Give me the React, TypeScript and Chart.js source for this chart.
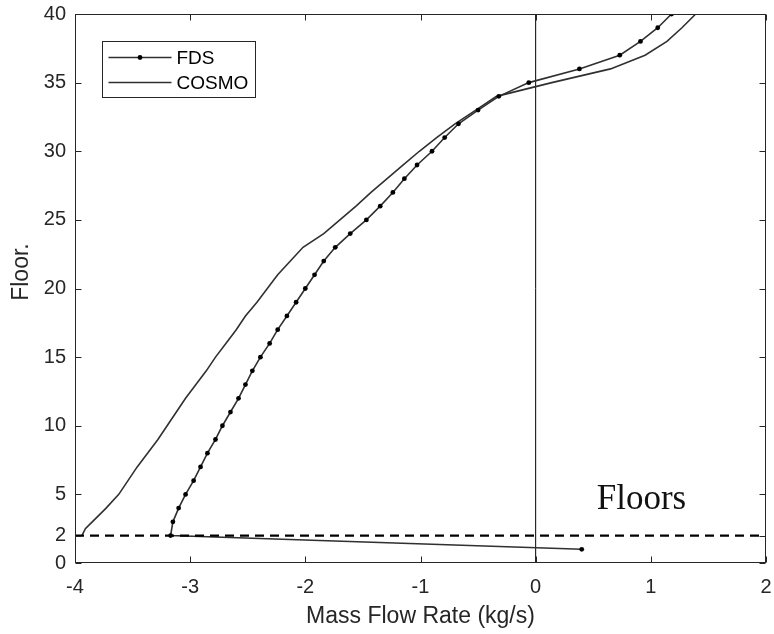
import React, { useEffect, useRef } from "react";
import { Chart, registerables } from "chart.js";

Chart.register(...registerables);

// Mass flow rate per floor (kg/s)
const fdsFloors = [
  1, 2, 3, 4, 5, 6, 7, 8, 9, 10, 11, 12, 13, 14, 15, 16, 17, 18, 19, 20,
  21, 22, 23, 24, 25, 26, 27, 28, 29, 30, 31, 32, 33, 34, 35, 36, 37, 38, 39, 40,
];
const fdsFlow = [
  0.4, -3.17, -3.15, -3.1, -3.04, -2.97, -2.91, -2.85, -2.78, -2.72,
  -2.65, -2.58, -2.52, -2.46, -2.39, -2.31, -2.24, -2.16, -2.08, -2.0,
  -1.92, -1.84, -1.74, -1.61, -1.47, -1.35, -1.24, -1.14, -1.03, -0.9,
  -0.79, -0.67, -0.5, -0.32, -0.06, 0.38, 0.73, 0.91, 1.06, 1.18,
];

const cosmoFloors = [
  2, 2.5, 3, 4, 5, 6, 7, 8, 9, 10, 11, 12, 13, 14, 15, 16, 17, 18, 19, 20,
  21, 22, 23, 24, 25, 26, 27, 28, 29, 30, 31, 32, 33, 34, 35, 36, 37, 38, 39, 40,
];
const cosmoFlow = [
  -3.94, -3.91, -3.85, -3.73, -3.62, -3.54, -3.46, -3.37, -3.28, -3.2,
  -3.12, -3.04, -2.95, -2.86, -2.78, -2.69, -2.6, -2.52, -2.42, -2.33,
  -2.24, -2.13, -2.02, -1.84, -1.7, -1.56, -1.43, -1.29, -1.15, -1.01,
  -0.86, -0.7, -0.52, -0.34, 0.14, 0.65, 0.95, 1.14, 1.27, 1.39,
];

const seriesLabels = ["FDS", "COSMO"];
const xTickValues = [-4, -3, -2, -1, 0, 1, 2];
const yTickValues = [0, 2, 5, 10, 15, 20, 25, 30, 35, 40];
const markerFloor = 2;
const annotationText = "Floors";
const xAxisTitle = "Mass Flow Rate (kg/s)";
const yAxisTitle = "Floor.";

const AXIS_COLOR = "#262626";
const SANS = "Arial, 'Liberation Sans', sans-serif";

const toPoints = (xs: number[], ys: number[]) => xs.map((x, i) => ({ x, y: ys[i] }));

// Drop the label overhang so the plot box sits exactly inside the layout padding
const noOverhang = (scale: any) => {
  scale.paddingLeft = 0;
  scale.paddingRight = 0;
  scale.paddingTop = 0;
  scale.paddingBottom = 0;
};

// Box around the axes with inward tick marks, the y title, the inset legend and the text note
const framePlugin = {
  id: "frameLegend",
  afterDraw(chart: any) {
    const { ctx, chartArea: a, scales } = chart;
    const xs = scales.x;
    const ys = scales.y;
    ctx.save();
    ctx.strokeStyle = AXIS_COLOR;
    ctx.lineWidth = 1;
    const L = Math.round(a.left) + 0.5;
    const R = Math.round(a.right) - 0.5;
    const T = Math.round(a.top) + 0.5;
    const B = Math.round(a.bottom) - 0.5;
    ctx.strokeRect(L, T, R - L, B - T);
    const tl = 6;
    ctx.beginPath();
    xs.ticks.forEach((t: any) => {
      const px = Math.round(xs.getPixelForValue(t.value)) + 0.5;
      ctx.moveTo(px, B);
      ctx.lineTo(px, B - tl);
      ctx.moveTo(px, T);
      ctx.lineTo(px, T + tl);
    });
    ys.ticks.forEach((t: any) => {
      const py = Math.round(ys.getPixelForValue(t.value)) + 0.5;
      ctx.moveTo(L, py);
      ctx.lineTo(L + tl, py);
      ctx.moveTo(R, py);
      ctx.lineTo(R - tl, py);
    });
    ctx.stroke();

    // y axis title
    ctx.save();
    ctx.translate(22, ys.getPixelForValue(21.2));
    ctx.rotate(-Math.PI / 2);
    ctx.font = `23px ${SANS}`;
    ctx.fillStyle = AXIS_COLOR;
    ctx.textAlign = "center";
    ctx.textBaseline = "middle";
    ctx.fillText(yAxisTitle, 0, 0);
    ctx.restore();

    // legend
    const bx = Math.round(a.left) + 27.5;
    const by = Math.round(a.top) + 27.5;
    const bw = 153;
    const bh = 56;
    ctx.fillStyle = "#ffffff";
    ctx.fillRect(bx, by, bw, bh);
    ctx.strokeStyle = AXIS_COLOR;
    ctx.lineWidth = 1;
    ctx.strokeRect(bx, by, bw, bh);
    ctx.font = `19px ${SANS}`;
    ctx.textBaseline = "middle";
    ctx.textAlign = "left";
    chart.data.datasets.slice(0, 2).forEach((ds: any, i: number) => {
      const cy = by + 16 + i * 25;
      ctx.strokeStyle = ds.borderColor;
      ctx.lineWidth = ds.borderWidth;
      ctx.beginPath();
      ctx.moveTo(bx + 6, cy);
      ctx.lineTo(bx + 69, cy);
      ctx.stroke();
      if (ds.pointRadius > 0) {
        ctx.fillStyle = ds.pointBackgroundColor;
        ctx.beginPath();
        ctx.arc(bx + 37.5, cy, ds.pointRadius, 0, Math.PI * 2);
        ctx.fill();
      }
      ctx.fillStyle = "#000000";
      ctx.fillText(ds.label, bx + 74, cy + 1);
    });

    // note above the reference floor line
    ctx.font = "35px 'Liberation Serif', 'Times New Roman', serif";
    ctx.fillStyle = "#111111";
    ctx.textBaseline = "alphabetic";
    ctx.fillText(annotationText, xs.getPixelForValue(0.53), ys.getPixelForValue(3.95));
    ctx.restore();
  },
};

export default function App() {
  const canvasRef = useRef<HTMLCanvasElement | null>(null);

  useEffect(() => {
    const canvas = canvasRef.current;
    if (!canvas) return;
    const chart = new Chart(canvas, {
      type: "scatter",
      data: {
        datasets: [
          {
            label: seriesLabels[0],
            data: toPoints(fdsFlow, fdsFloors),
            showLine: true,
            borderColor: "#303030",
            borderWidth: 1.6,
            pointRadius: 2.4,
            pointBackgroundColor: "#000000",
            pointBorderWidth: 0,
            pointHoverRadius: 2.4,
            order: 1,
          },
          {
            label: seriesLabels[1],
            data: toPoints(cosmoFlow, cosmoFloors),
            showLine: true,
            borderColor: "#303030",
            borderWidth: 1.6,
            pointRadius: 0,
            pointHoverRadius: 0,
            order: 2,
          },
          {
            label: "floor-line",
            data: [
              { x: xTickValues[0], y: markerFloor },
              { x: xTickValues[xTickValues.length - 1], y: markerFloor },
            ],
            showLine: true,
            borderColor: "#000000",
            borderWidth: 2.2,
            borderDash: [9, 6],
            pointRadius: 0,
            order: 0,
          },
          {
            label: "zero-line",
            data: [
              { x: 0, y: yTickValues[0] },
              { x: 0, y: yTickValues[yTickValues.length - 1] },
            ],
            showLine: true,
            borderColor: "#000000",
            borderWidth: 1,
            pointRadius: 0,
            order: 3,
          },
        ],
      },
      options: {
        responsive: false,
        animation: false,
        devicePixelRatio: 1,
        layout: { padding: { top: 14, right: 8, left: 0, bottom: 0 } },
        plugins: {
          legend: { display: false },
          tooltip: { enabled: false },
        },
        scales: {
          x: {
            type: "linear",
            min: xTickValues[0],
            max: xTickValues[xTickValues.length - 1],
            afterBuildTicks: (scale: any) => {
              scale.ticks = xTickValues.map((v) => ({ value: v }));
            },
            afterFit: (scale: any) => {
              scale.height = 71;
              noOverhang(scale);
            },
            grid: { display: false, drawTicks: false },
            border: { display: false },
            ticks: {
              color: AXIS_COLOR,
              font: { size: 20, family: SANS },
              padding: 12,
              maxRotation: 0,
            },
            title: {
              display: true,
              text: xAxisTitle,
              color: AXIS_COLOR,
              font: { size: 23, family: SANS },
              padding: { top: 0, bottom: 4 },
            },
          },
          y: {
            type: "linear",
            min: yTickValues[0],
            max: yTickValues[yTickValues.length - 1],
            afterBuildTicks: (scale: any) => {
              scale.ticks = yTickValues.map((v) => ({ value: v }));
            },
            afterFit: (scale: any) => {
              scale.width = 75;
              noOverhang(scale);
            },
            grid: { display: false, drawTicks: false },
            border: { display: false },
            ticks: {
              color: AXIS_COLOR,
              font: { size: 20, family: SANS },
              padding: 9,
            },
            title: { display: false },
          },
        },
      },
      plugins: [framePlugin],
    });
    return () => chart.destroy();
  }, []);

  return (
    <div style={{ position: "fixed", left: 0, top: 0, width: 774, height: 634, background: "#ffffff" }}>
      <canvas ref={canvasRef} width={774} height={634} style={{ display: "block" }} />
    </div>
  );
}
